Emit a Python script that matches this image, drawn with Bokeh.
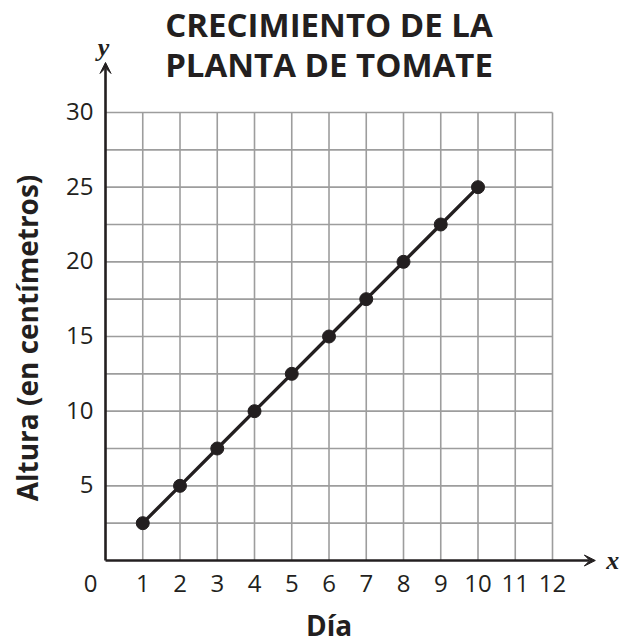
import math
from bokeh.plotting import figure
from bokeh.models import Range1d, Label, Arrow, VeeHead
from bokeh.core.properties import value
from bokeh.embed import file_html
from bokeh.resources import INLINE

# ---- data ----
days = [1, 2, 3, 4, 5, 6, 7, 8, 9, 10]
heights = [2.5, 5, 7.5, 10, 12.5, 15, 17.5, 20, 22.5, 25]
x_ticks = [1, 2, 3, 4, 5, 6, 7, 8, 9, 10, 11, 12]
x_tick_labels = ["1", "2", "3", "4", "5", "6", "7", "8", "9", "10", "11", "12"]
y_ticks = [5, 10, 15, 20, 25, 30]
y_tick_labels = ["5", "10", "15", "20", "25", "30"]
x_grid = [1, 2, 3, 4, 5, 6, 7, 8, 9, 10, 11, 12]
y_grid = [2.5, 5, 7.5, 10, 12.5, 15, 17.5, 20, 22.5, 25, 27.5, 30]
x_max = 12
y_max = 30

INK = "#231f20"
GRID = "#9d9d9d"
FONT = "Open Sans"

W, H = 623, 643
p = figure(width=W, height=H,
           x_range=Range1d(-2.819, 13.906), y_range=Range1d(-5.558, 37.50),
           output_backend="svg", toolbar_location=None,
           x_axis_location=None, y_axis_location=None,
           min_border=0)
p.outline_line_color = None
p.grid.visible = False
p.background_fill_color = "white"
p.border_fill_color = "white"

# grid
p.segment(x0=x_grid, y0=[0] * len(x_grid), x1=x_grid, y1=[y_max] * len(x_grid),
          line_color=GRID, line_width=1.6)
p.segment(x0=[0] * len(y_grid), y0=y_grid, x1=[x_max] * len(y_grid), y1=y_grid,
          line_color=GRID, line_width=1.6)

# axes (arrows)
p.add_layout(Arrow(end=VeeHead(size=11, fill_color=INK, line_color=INK, line_width=1),
                   x_start=0, y_start=0, x_end=13.15, y_end=0,
                   line_color=INK, line_width=2.6))
p.add_layout(Arrow(end=VeeHead(size=11, fill_color=INK, line_color=INK, line_width=1),
                   x_start=0, y_start=0, x_end=0, y_end=33.35,
                   line_color=INK, line_width=2.6))

# data
p.line(days, heights, line_color=INK, line_width=3.4)
p.scatter(days, heights, size=13, fill_color=INK, line_color=INK)

# tick labels
p.text(x=x_ticks, y=[0] * len(x_ticks), text=x_tick_labels, y_offset=23,
       text_align="center", text_baseline="alphabetic",
       text_font=value(FONT), text_font_size="24px", text_color=INK)
p.text(x=[0] * len(y_ticks), y=y_ticks, text=y_tick_labels, x_offset=-12, y_offset=-1,
       text_align="right", text_baseline="alphabetic",
       text_font=value(FONT), text_font_size="24px", text_color=INK)
p.text(x=[0], y=[0], text=["0"], x_offset=-15, y_offset=23,
       text_align="center", text_baseline="alphabetic",
       text_font=value(FONT), text_font_size="24px", text_color=INK)

# titles
p.add_layout(Label(x=6, y=0, text="CRECIMIENTO DE LA", text_align="center",
                   y_offset=536, text_baseline="alphabetic", text_font=FONT,
                   text_font_style="bold", text_font_size="33px", text_color=INK))
p.add_layout(Label(x=6, y=0, text="PLANTA DE TOMATE", text_align="center",
                   y_offset=496, text_baseline="alphabetic", text_font=FONT,
                   text_font_style="bold", text_font_size="33px", text_color=INK))

p.add_layout(Label(x=0, y=15, x_offset=-79, y_offset=-1.5, text="Altura (en centímetros)",
                   angle=math.pi / 2, text_align="center", text_baseline="alphabetic",
                   text_font=FONT, text_font_style="bold", text_font_size="28px",
                   text_color=INK))
p.add_layout(Label(x=6, y=0, y_offset=-64, text="Día", text_align="center",
                   text_baseline="alphabetic", text_font=FONT, text_font_style="bold",
                   text_font_size="28px", text_color=INK))

p.add_layout(Label(x=0, y=33.35, x_offset=-2, y_offset=15, text="y", text_align="center",
                   text_baseline="middle", text_font="Liberation Serif",
                   text_font_style="bold italic", text_font_size="26px", text_color=INK))
p.add_layout(Label(x=13.15, y=0, x_offset=11, text="x", text_align="left",
                   text_baseline="middle", text_font="Liberation Serif",
                   text_font_style="bold italic", text_font_size="26px", text_color=INK))

open("out.html", "w").write(file_html(p, INLINE))
